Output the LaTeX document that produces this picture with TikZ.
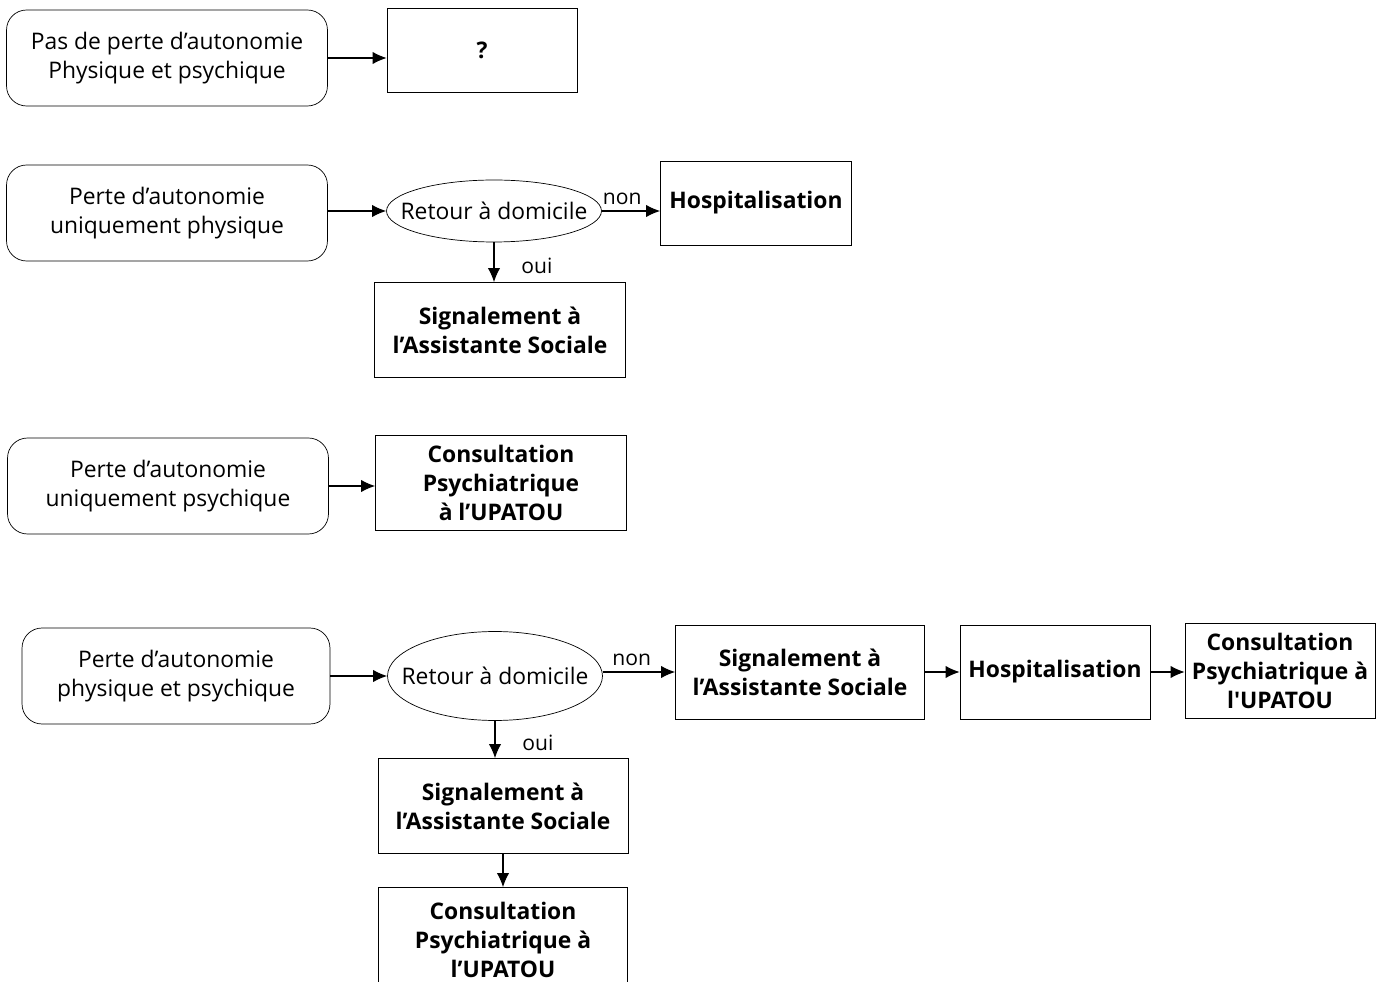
\documentclass[tikz,border=0pt]{standalone}
\usepackage{fontspec}
\setmainfont{Open Sans}
\usetikzlibrary{arrows,arrows.meta,shapes.geometric,calc}
\newcommand\boxfont{\fontsize{13}{16.5}\selectfont}

\begin{document}
\begin{tikzpicture}[
x=0.02cm,y=-0.02cm,
>={Latex[length=8pt,width=7pt]},
every node/.style={
	font=\boxfont
},
situation/.style={
	draw,
	rounded corners=0.4cm,
	align=center,
	minimum width=6.42cm,
	minimum height=1.92cm,
	inner sep=0pt
},
action/.style={
	draw,
	align=center,
	font=\boxfont\bfseries,
	inner sep=0pt
},
choice/.style={
	draw,
	ellipse,
	inner xsep=-0.36cm,
	inner ysep=0pt,
	minimum width=4.3cm
},
flow/.style={
	->,
	line width=0.6pt
},
answer/.style={
	font=\fontsize{12}{14}\selectfont
}
]
\useasboundingbox (0,0) rectangle (1385,982);
\clip (0,0) rectangle (1385,982);

% situations de depart
\foreach \n/\x/\y/\t in {1/167/58/{Pas de perte d’autonomie\\Physique et psychique},
	2/167/213/{Perte d’autonomie\\uniquement physique},
	3/168/486/{Perte d’autonomie\\uniquement psychique}}
\node[situation] (s\n) at (\x,\y) {\t};
\node[situation,minimum width=6.16cm] (s4) at (176,676) {Perte d’autonomie\\physique et psychique};

% premiere ligne
\node[action,minimum width=3.8cm,minimum height=1.68cm] (q1) at (482,50) {?};
\draw[flow] (s1) -- (s1 -| q1.west);

% deuxieme ligne
\node[choice,minimum height=1.24cm] (r1) at (494,211) {Retour à domicile};
\node[action,minimum width=3.82cm,minimum height=1.68cm] (h1) at (756,203) {Hospitalisation};
\node[action,minimum width=5.02cm,minimum height=1.9cm] (a1) at (500,330) {Signalement à\\l’Assistante Sociale};
\draw[flow] (s2.east |- r1) -- (r1.west);
\draw[flow] (r1.east) -- (r1.east -| h1.west) node[pos=0.35,above,answer] {non};
\draw[flow] (r1.south) -- (r1.south |- a1.north) node[pos=0.6,right,answer,xshift=0.42cm] {oui};

% troisieme ligne
\node[action,minimum width=5.02cm,minimum height=1.9cm] (c1) at (501,483) {Consultation\\Psychiatrique\\à l’UPATOU};
\draw[flow] (s3) -- (s3 -| c1.west);

% quatrieme ligne
\node[choice,minimum height=1.78cm] (r2) at (495,676) {Retour à domicile};
\node[action,minimum width=4.98cm,minimum height=1.88cm] (a2) at (800,672) {Signalement à\\l’Assistante Sociale};
\node[action,minimum width=3.8cm,minimum height=1.88cm] (h2) at (1055,672) {Hospitalisation};
\node[action,minimum width=3.8cm,minimum height=1.9cm] (c2) at (1280,671) {Consultation\\Psychiatrique à\\l\textquotesingle UPATOU};
\node[action,minimum width=5.0cm,minimum height=1.9cm] (a3) at (503,806) {Signalement à\\l’Assistante Sociale};
\node[action,minimum width=4.98cm,minimum height=2.1cm] (c3) at (503,940) {Consultation\\Psychiatrique à\\l’UPATOU};
\draw[flow] (s4.east |- r2) -- (r2.west);
\draw[flow] (r2.east |- a2) -- (a2.west) node[pos=0.4,above,answer] {non};
\draw[flow] (a2) -- (h2);
\draw[flow] (h2) -- (h2 -| c2.west);
\draw[flow] (r2.south) -- (r2.south |- a3.north) node[pos=0.6,right,answer,xshift=0.42cm] {oui};
\draw[flow] (a3) -- (a3 |- c3.north);
\end{tikzpicture}
\end{document}
